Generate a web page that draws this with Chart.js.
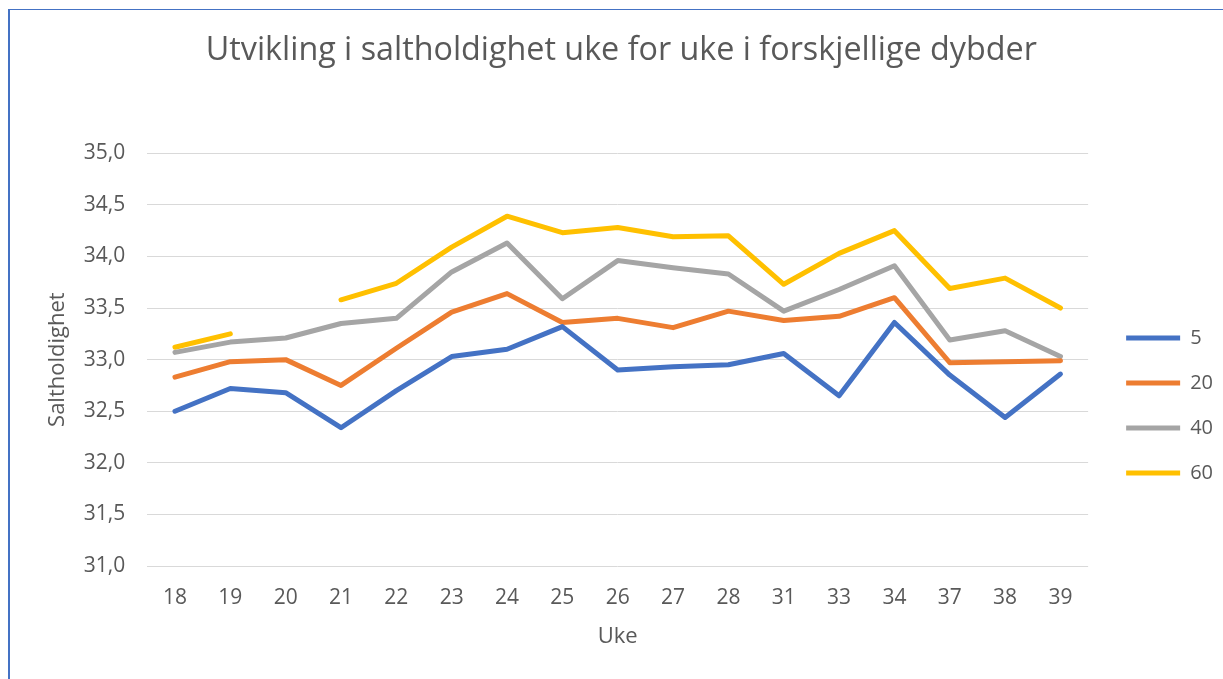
<!DOCTYPE html>
<html>
<head>
<meta charset="utf-8">
<script src="https://cdn.jsdelivr.net/npm/chart.js@4/dist/chart.umd.min.js"></script>
<style>
  html, body { margin: 0; padding: 0; background: #fff; overflow: hidden; }
  #chart { position: absolute; left: 0; top: 0; }
  #frame {
    position: absolute; left: 8px; top: 9px; right: 0; bottom: 0;
    border-left: 2px solid #4472C4; border-top: 1px solid #4472C4;
    pointer-events: none;
  }
</style>
</head>
<body>
<canvas id="chart" width="1223" height="679"></canvas>
<div id="frame"></div>
<script>
// Uke (week numbers)
const weeks = ["18", "19", "20", "21", "22", "23", "24", "25", "26", "27", "28", "31", "33", "34", "37", "38", "39"];

// salinity per depth (m)
const depth5  = [32.50, 32.72, 32.68, 32.34, 32.70, 33.03, 33.10, 33.32, 32.90, 32.93, 32.95, 33.06, 32.65, 33.36, 32.85, 32.44, 32.86];
const depth20 = [32.83, 32.98, 33.00, 32.75, 33.11, 33.46, 33.64, 33.36, 33.40, 33.31, 33.47, 33.38, 33.42, 33.60, 32.97, 32.98, 32.99];
const depth40 = [33.07, 33.17, 33.21, 33.35, 33.40, 33.85, 34.13, 33.59, 33.96, 33.89, 33.83, 33.47, 33.68, 33.91, 33.19, 33.28, 33.03];
const depth60 = [33.12, 33.25, null, 33.58, 33.74, 34.09, 34.39, 34.23, 34.28, 34.19, 34.20, 33.73, 34.03, 34.25, 33.69, 33.79, 33.50];

const FONT = "'Open Sans', sans-serif";
const TEXT = "#595959";

function series(label, data, color) {
  return {
    label,
    data,
    borderColor: color,
    backgroundColor: color,
    borderWidth: 5,
    borderCapStyle: "round",
    borderJoinStyle: "round",
    pointRadius: 0,
    pointHoverRadius: 0,
    tension: 0,
    spanGaps: false
  };
}

// push legend down/right like the Excel layout
const legendShift = {
  id: "legendShift",
  afterLayout(chart) {
    const lg = chart.legend;
    lg.left += 13; lg.right += 13;
    lg.top += 66; lg.bottom += 66;
  }
};

new Chart(document.getElementById("chart"), {
  type: "line",
  data: {
    labels: weeks,
    datasets: [
      series("5", depth5, "#4472C4"),
      series("20", depth20, "#ED7D31"),
      series("40", depth40, "#A5A5A5"),
      series("60", depth60, "#FFC000")
    ]
  },
  options: {
    responsive: false,
    animation: false,
    devicePixelRatio: 1,
    layout: { padding: { left: 32.6, right: 13, top: 0, bottom: 0 } },
    plugins: {
      title: {
        display: true,
        text: "Utvikling i saltholdighet uke for uke i forskjellige dybder",
        color: TEXT,
        font: { family: FONT, size: 32.3, weight: "normal" },
        padding: { top: 31.6, bottom: 82.9 }
      },
      legend: {
        position: "right",
        labels: {
          color: TEXT,
          font: { family: FONT, size: 20 },
          usePointStyle: true,
          pointStyle: "line",
          pointStyleWidth: 54,
          padding: 25
        }
      },
      tooltip: { enabled: false }
    },
    scales: {
      x: {
        offset: true,
        grid: { display: false },
        border: { display: false },
        ticks: { color: TEXT, font: { family: FONT, size: 21 }, padding: 11, maxRotation: 0 },
        title: {
          display: true,
          text: "Uke",
          color: TEXT,
          font: { family: FONT, size: 22 },
          padding: { top: 0, bottom: 29.3 }
        },
        afterFit(scale) { scale.height = 113; }
      },
      y: {
        min: 31,
        max: 35,
        grid: { color: "#D9D9D9", lineWidth: 1, drawTicks: false },
        border: { display: false },
        ticks: {
          stepSize: 0.5,
          color: TEXT,
          font: { family: FONT, size: 21 },
          padding: 22,
          callback: (v) => v.toFixed(1).replace(".", ",")
        },
        title: {
          display: true,
          text: "Saltholdighet",
          color: TEXT,
          font: { family: FONT, size: 22 },
          padding: { top: 12, bottom: 0 }
        },
        afterFit(scale) { scale.width = 114.7; }
      }
    }
  },
  plugins: [legendShift]
});
</script>
</body>
</html>
